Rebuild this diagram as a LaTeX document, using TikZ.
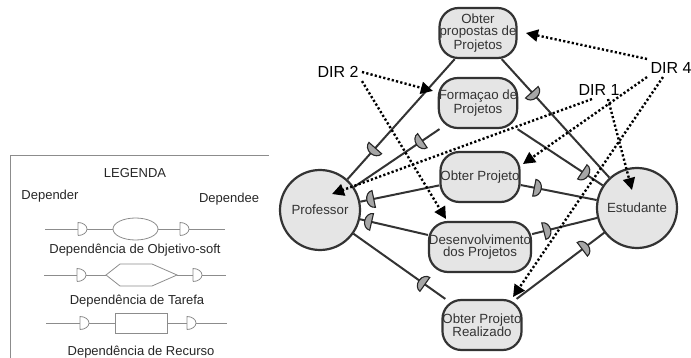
\documentclass[tikz,border=0pt]{standalone}
\usepackage{fontspec}
\setmainfont{Liberation Sans}
\usetikzlibrary{arrows.meta}
\usetikzlibrary{decorations.markings}
\tikzset{
	objetivo/.style={draw=black!80,fill=black!10,line width=2.2pt,rounded corners=19pt,
		minimum width=77pt,minimum height=50pt,inner sep=0pt,align=center,text=black!80,
		font=\fontsize{13.3}{11.8}\selectfont},
	ator/.style={circle,draw=black!80,fill=black!10,line width=2.2pt,minimum size=80pt,
		inner sep=0pt,text=black!80,font=\fontsize{13.3}{14}\selectfont},
	lig/.style={draw=black!80,line width=2pt},
	dep/.style={postaction={decorate,decoration={markings,mark=at position #1 with
		{\draw[draw=black!85,fill=black!35,line width=1.1pt] (0pt,-8.5pt) -- (0pt,8.5pt)
			arc[start angle=90,end angle=270,x radius=7pt,y radius=8.5pt] -- cycle;}}}},
	dir/.style={line width=2.4pt,dash pattern=on 2.2pt off 2.2pt,-{Triangle[length=12pt,width=12pt]}},
	rotulo/.style={font=\fontsize{16}{16}\selectfont},
	leg/.style={draw=black!45,line width=0.8pt},
	legtxt/.style={text=black!85,font=\fontsize{13}{13}\selectfont},
}
\newcommand{\legD}[1]{\draw[leg] #1 ++(0,6.5) -- ++(0,-13)
	arc[start angle=90,end angle=-90,x radius=9pt,y radius=6.5pt];}

\begin{document}
\begin{tikzpicture}[x=1pt,y=-1pt]
	\useasboundingbox (0,0) rectangle (691,358);
	%	legenda
	\draw[leg] (10,358) -- (10,155) -- (269,155);
	\node[legtxt] (legenda) at (135,173) {LEGENDA};
	\node[legtxt] (depender) at (50,196) {Depender};
	\node[legtxt] (dependee) at (229,199) {Dependee};
	
	\draw[leg] (45,229) -- (78,229);
	\legD{(78,229)}
	\draw[leg] (87,229) -- (113,229);
	\draw[leg] (135.5,229) ellipse [x radius=22.5pt,y radius=11pt];
	\draw[leg] (158,229) -- (180,229);
	\legD{(180,229)}
	\draw[leg] (189,229) -- (225,229);
	\node[legtxt] (softgoal) at (135,250) {Dependência de Objetivo-soft};
	
	\draw[leg] (44,275) -- (77,275);
	\legD{(77,275)}
	\draw[leg] (86,275) -- (106,275);
	\draw[leg] (106,275) -- (120,264) -- (152,264) -- (177,275) -- (152,286) -- (120,286) -- cycle;
	\draw[leg] (177,275) -- (193,275);
	\legD{(193,275)}
	\draw[leg] (202,275) -- (226,275);
	\node[legtxt] (tarefa) at (137,301) {Dependência de Tarefa};
	
	\draw[leg] (46,323) -- (80,323);
	\legD{(80,323)}
	\draw[leg] (89,323) -- (115,323);
	\draw[leg] (115,313) rectangle (167,333);
	\draw[leg] (167,323) -- (187,323);
	\legD{(187,323)}
	\draw[leg] (196,323) -- (227,323);
	\node[legtxt] (recurso) at (141,352) {Dependência de Recurso};
	
	%	atores e objetivos
	\node[objetivo] (propostas) at (478,33) {Obter\\propostas de\\Projetos};
	\node[objetivo] (formacao) at (478,103) {Formaçao de\\Projetos};
	\node[objetivo] (obter) at (480,177) {Obter Projeto};
	\node[objetivo] (desenv) at (480,247) {Desenvolvimento\\dos Projetos};
	\node[objetivo] (realizado) at (482,325) {Obter Projeto\\Realizado};
	\node[ator] (prof) at (320,210) {Professor};
	\node[ator] (estud) at (637,208) {Estudante};
	
	\draw[lig,dep=0.26] (prof) -- (propostas);
	\draw[lig,dep=0.8] (prof) -- (formacao);
	\draw[lig,dep=0.17] (prof) -- (obter);
	\draw[lig,dep=0.17] (prof) -- (desenv);
	\draw[lig,dep=0.78] (prof) -- (realizado);
	\draw[lig,dep=0.72] (estud) -- (propostas);
	\draw[lig,dep=0.24] (estud) -- (formacao);
	\draw[lig,dep=0.82] (estud) -- (obter);
	\draw[lig,dep=0.82] (estud) -- (desenv);
	\draw[lig,dep=0.25] (estud) -- (realizado);
	
	%	diretrizes
	\node[rotulo] (dir2) at (338,72) {DIR 2};
	\node[rotulo] (dir4) at (671,68) {DIR 4};
	\node[rotulo] (dir1) at (599,90) {DIR 1};
	\coordinate (pDesenv) at (446,219);
	\coordinate (pPropostas) at (526,33);
	\coordinate (pObter) at (523,164);
	\coordinate (pRealizado) at (513,297);
	\coordinate (pProf) at (332,194);
	\coordinate (pEstud) at (632,190);
	
	\draw[dir,shorten >=5pt] (dir2.east) -- (formacao);
	\draw[dir] (dir2.south east) -- (pDesenv);
	\draw[dir] (dir4.north west) -- (pPropostas);
	\draw[dir] (dir4.south west) -- (pObter);
	\draw[dir] ([xshift=-8pt]dir4.south) -- (pRealizado);
	\draw[dir] ([xshift=-7pt]dir1.south) -- (pProf);
	\draw[dir] ([xshift=9pt]dir1.south) -- (pEstud);
\end{tikzpicture}
\end{document}
